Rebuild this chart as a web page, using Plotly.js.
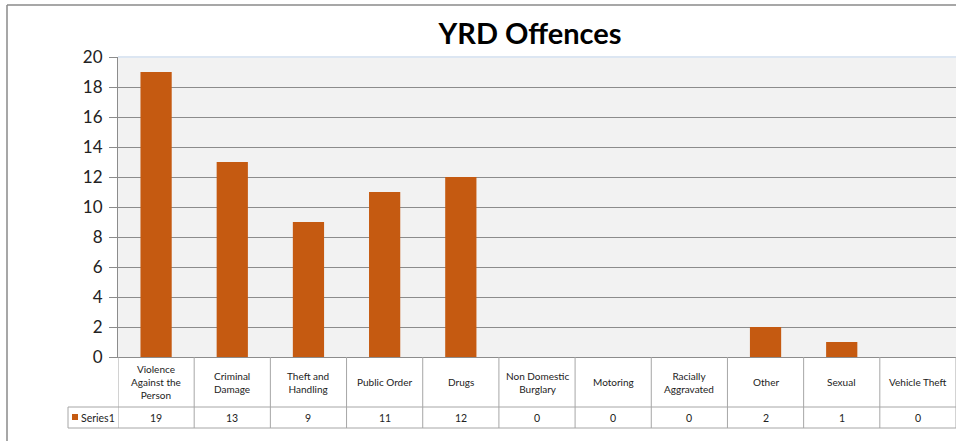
<!DOCTYPE html>
<html>
<head>
<meta charset="utf-8">
<script src="https://cdn.plot.ly/plotly-3.0.1.min.js"></script>
<style>html,body{margin:0;padding:0;background:#fff;}#chart{width:956px;height:441px;}</style>
</head>
<body>
<div id="chart"></div>
<script>
const categories = ["Violence Against the Person","Criminal Damage","Theft and Handling","Public Order","Drugs","Non Domestic Burglary","Motoring","Racially Aggravated","Other","Sexual","Vehicle Theft"];
const tableLabels = ["Violence<br>Against the<br>Person","Criminal<br>Damage","Theft and<br>Handling","Public Order","Drugs","Non Domestic<br>Burglary","Motoring","Racially<br>Aggravated","Other","Sexual","Vehicle Theft"];
const seriesName = "Series1";
const values = [19,13,9,11,12,0,0,0,2,1,0];
const yTicks = [0,2,4,6,8,10,12,14,16,18,20];

const W = 956, H = 441;
const mL = 118, mR = 0, mT = 57, mB = 84;
const plotW = W - mL - mR, plotH = H - mT - mB;
const px2x = p => (p - mL) / plotW;      // pixel -> paper x
const py2y = p => (H - mB - p) / plotH;  // pixel -> paper y

const orange = "#C55A11";
const gridCol = "#8C8C8C";
const tableCol = "#A6A6A6";
const font = "Lato, 'Open Sans', sans-serif";

const yHdrBot = py2y(407), yValBot = py2y(428);
const n = categories.length;

const shapes = [];
const annotations = [];
// outer chart border (top and left)
shapes.push({type:"line", xref:"paper", yref:"paper", x0:px2x(7), x1:px2x(970), y0:py2y(5), y1:py2y(5), line:{color:"#8A8A8A", width:1.5}});
shapes.push({type:"line", xref:"paper", yref:"paper", x0:px2x(7), x1:px2x(7), y0:py2y(5), y1:py2y(445), line:{color:"#8A8A8A", width:1.5}});
// plot area top edge
shapes.push({type:"line", xref:"paper", yref:"paper", x0:0, x1:1, y0:1, y1:1, line:{color:"#DCE6F2", width:2}});
// table vertical lines at category boundaries
for (let k = 0; k <= n; k++) {
  shapes.push({type:"line", xref:"x", yref:"paper", x0:k-0.5, x1:k-0.5, y0:0, y1:yValBot, line:{color:tableCol, width:1}});
}
// table horizontal lines
shapes.push({type:"line", xref:"paper", yref:"paper", x0:px2x(68), x1:1.01, y0:yHdrBot, y1:yHdrBot, line:{color:tableCol, width:1}});
shapes.push({type:"line", xref:"paper", yref:"paper", x0:px2x(68), x1:1.01, y0:yValBot, y1:yValBot, line:{color:tableCol, width:1}});
shapes.push({type:"line", xref:"paper", yref:"paper", x0:px2x(68), x1:px2x(68), y0:yHdrBot, y1:yValBot, line:{color:tableCol, width:1}});
// legend key square
shapes.push({type:"rect", xref:"paper", yref:"paper", x0:px2x(72), x1:px2x(78), y0:py2y(420), y1:py2y(414), fillcolor:orange, line:{width:0}});
annotations.push({xref:"paper", yref:"paper", x:px2x(79), y:(yHdrBot+yValBot)/2, xanchor:"left", yanchor:"middle", text:seriesName, showarrow:false, font:{family:font, size:10.5, color:"#222"}});

for (let i = 0; i < n; i++) {
  annotations.push({xref:"x", yref:"paper", x:categories[i], y:(0+yHdrBot)/2, xanchor:"center", yanchor:"middle", text:tableLabels[i], showarrow:false, font:{family:font, size:10, color:"#222"}});
  annotations.push({xref:"x", yref:"paper", x:categories[i], y:(yHdrBot+yValBot)/2, xanchor:"center", yanchor:"middle", text:String(values[i]), showarrow:false, font:{family:font, size:10.5, color:"#222"}});
}

const trace = {
  type:"bar", x:categories, y:values, name:seriesName,
  marker:{color:orange, line:{width:0}}, width:0.41, hoverinfo:"x+y"
};

const layout = {
  width:W, height:H,
  margin:{l:mL, r:mR, t:mT, b:mB, pad:0},
  paper_bgcolor:"#FFFFFF", plot_bgcolor:"#F2F2F2",
  showlegend:false,
  title:{text:"<b>YRD Offences</b>", font:{family:font, size:29, color:"#000"}, x:px2x(530), xref:"paper", xanchor:"center", y:1-34/H, yanchor:"middle"},
  xaxis:{type:"category", range:[-0.5, n-0.5], showticklabels:false, showgrid:false, zeroline:false,
         showline:true, linecolor:gridCol, linewidth:1, ticks:"", fixedrange:true},
  yaxis:{range:[0,20], tickvals:yTicks, ticktext:yTicks.map(String), showgrid:true, gridcolor:gridCol, gridwidth:1,
         zeroline:false, showline:true, linecolor:gridCol, linewidth:1, ticks:"outside", ticklen:8, tickcolor:gridCol,
         ticklabelstandoff:3, tickfont:{family:font, size:17, color:"#222"}, fixedrange:true},
  shapes:shapes, annotations:annotations
};

Plotly.newPlot("chart", [trace], layout, {displayModeBar:false, staticPlot:true});
</script>
</body>
</html>
